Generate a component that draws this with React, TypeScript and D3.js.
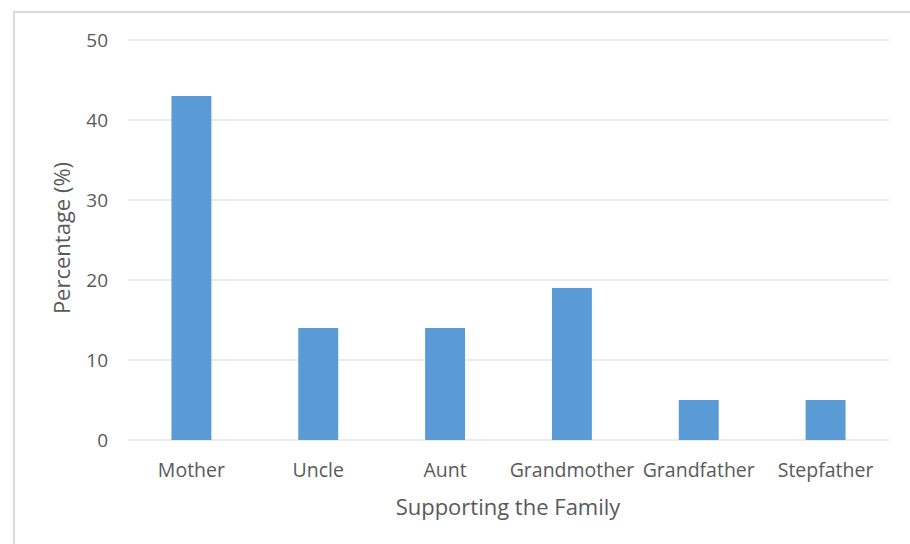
import React from "react";
import * as d3 from "d3";

const categories = ["Mother", "Uncle", "Aunt", "Grandmother", "Grandfather", "Stepfather"];
const values = [43, 14, 14, 19, 5, 5];
const yTicks = [0, 10, 20, 30, 40, 50];

const W = 910;
const H = 544;
const left = 128;
const right = 889;
const top = 40;
const bottom = 440;
const textColor = "#595959";
const font = "'Open Sans', sans-serif";

export default function App() {
  const x = d3
    .scaleBand<string>()
    .domain(categories)
    .range([left, right])
    .paddingInner(0.685)
    .paddingOuter(0.3425);
  const y = d3.scaleLinear().domain([0, 50]).range([bottom, top]);

  return (
    <svg
      width={W}
      height={H}
      style={{ position: "absolute", left: 0, top: 0, background: "#fff" }}
      fontFamily={font}
    >
      <rect x={14} y={12} width={W} height={H} fill="#fff" stroke="#d9d9d9" strokeWidth={2} />
      {yTicks.map((t) => (
        <g key={t}>
          <line x1={left} x2={right} y1={y(t)} y2={y(t)} stroke="#d9d9d9" strokeWidth={1} />
          <text x={108} y={y(t)} dy="0.35em" textAnchor="end" fontSize={19} fill={textColor}>
            {t}
          </text>
        </g>
      ))}
      {categories.map((c, i) => (
        <rect
          key={c}
          x={x(c)}
          y={y(values[i])}
          width={x.bandwidth()}
          height={y(0) - y(values[i])}
          fill="#5b9bd5"
        />
      ))}
      {categories.map((c) => (
        <text
          key={c}
          x={(x(c) as number) + x.bandwidth() / 2}
          y={477}
          textAnchor="middle"
          fontSize={19.5}
          fill={textColor}
        >
          {c}
        </text>
      ))}
      <text x={508} y={515} textAnchor="middle" fontSize={22} fill={textColor}>
        Supporting the Family
      </text>
      <text
        transform={`translate(70, ${238}) rotate(-90)`}
        textAnchor="middle"
        fontSize={22}
        fill={textColor}
      >
        Percentage (%)
      </text>
    </svg>
  );
}
